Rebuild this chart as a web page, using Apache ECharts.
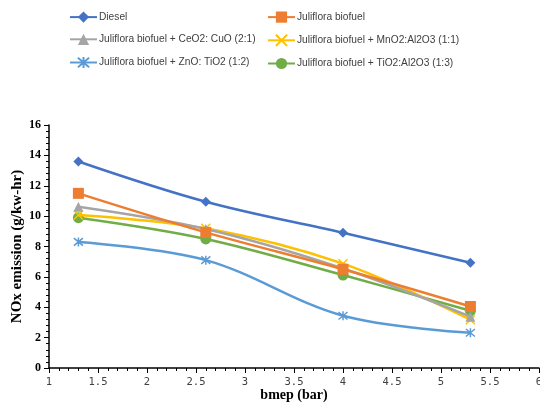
<!DOCTYPE html>
<html><head><meta charset="utf-8">
<script src="https://cdn.jsdelivr.net/npm/echarts@6/dist/echarts.min.js"></script>
<style>html,body{margin:0;padding:0;background:#fff}#c{width:540px;height:411px}</style>
</head><body><div id="c"></div>
<script>
const bmep = [1.3, 2.6, 4, 5.3];
const seriesNames = [
  'Diesel',
  'Juliflora biofuel',
  'Juliflora biofuel + CeO2: CuO (2:1)',
  'Juliflora biofuel + MnO2:Al2O3 (1:1)',
  'Juliflora biofuel + ZnO: TiO2 (1:2)',
  'Juliflora biofuel + TiO2:Al2O3 (1:3)'
];
const diesel = [13.6, 10.95, 8.9, 6.93];
const juliflora = [11.5, 8.93, 6.5, 4.05];
const ceo2 = [10.62, 9.15, 6.55, 3.38];
const mno2 = [10.07, 9.2, 6.87, 3.18];
const zno = [8.3, 7.1, 3.44, 2.32];
const tio2 = [9.9, 8.5, 6.12, 3.77];
const colors = ['#4472C4', '#ED7D31', '#A5A5A5', '#FFC000', '#5B9BD5', '#70AD47'];
const values = [diesel, juliflora, ceo2, mno2, zno, tio2];

const xPath = 'path://M0,0L10,10M10,0L0,10';
const starPath = 'path://M0,0L10,10M10,0L0,10M5,-1L5,11';
const symbols = ['diamond', 'rect', 'triangle', xPath, starPath, 'circle'];
const sizes = [10, 11, 10, 9, 9, 11];

const series = values.map((v, i) => ({
  name: seriesNames[i],
  type: 'line',
  smooth: 0.35,
  data: bmep.map((x, j) => [x, v[j]]),
  symbol: symbols[i],
  symbolSize: sizes[i],
  showAllSymbol: true,
  lineStyle: { color: colors[i], width: 2.5 },
  itemStyle: (i === 3 || i === 4)
    ? { color: colors[i], borderColor: colors[i], borderWidth: 1.5 }
    : { color: colors[i], borderWidth: 0 },
  emphasis: { disabled: true },
  z: 10 - i
}));

const legendCommon = {
  orient: 'vertical',
  top: 11.5,
  padding: 0,
  itemWidth: 27,
  itemHeight: 14,
  itemGap: 11,
  textStyle: { fontFamily: 'Liberation Sans, Arial', fontSize: 10.2, color: '#404040', padding: [0, 0, 0, -3] },
  selectedMode: false
};

const chart = echarts.init(document.getElementById('c'), null, { renderer: 'canvas' });
chart.setOption({
  animation: false,
  color: colors,
  legend: [
    Object.assign({}, legendCommon, { left: 69, data: [seriesNames[0], seriesNames[2], seriesNames[4]] }),
    Object.assign({}, legendCommon, { left: 267, data: [seriesNames[1], seriesNames[3], seriesNames[5]] })
  ],
  grid: { left: 49, right: 1, top: 125, bottom: 43, containLabel: false, outerBoundsMode: 'none' },
  xAxis: {
    type: 'value', min: 1, max: 6, interval: 0.5,
    name: 'bmep (bar)', nameLocation: 'middle', nameGap: 20, nameMoveOverlap: false,
    nameTextStyle: { fontFamily: 'Liberation Serif, Times New Roman', fontWeight: 'bold', fontSize: 14, color: '#000' },
    axisLine: { lineStyle: { color: '#000', width: 1.5 } },
    axisTick: { show: true, inside: false, length: 5, lineStyle: { color: '#000' } },
    minorTick: { show: true, splitNumber: 5, length: 3, lineStyle: { color: '#000' } },
    axisLabel: { fontFamily: 'DejaVu Sans Mono, monospace', fontSize: 10.5, color: '#404040', margin: 9 },
    splitLine: { show: false }
  },
  yAxis: {
    type: 'value', min: 0, max: 16, interval: 2,
    name: 'NOx emission (g/kw-hr)', nameLocation: 'middle', nameGap: 24, nameMoveOverlap: false,
    nameTextStyle: { fontFamily: 'Liberation Serif, Times New Roman', fontWeight: 'bold', fontSize: 15, color: '#000' },
    axisLine: { show: true, lineStyle: { color: '#000', width: 1.5 } },
    axisTick: { show: true, inside: false, length: 5, lineStyle: { color: '#000' } },
    minorTick: { show: true, splitNumber: 5, length: 3, lineStyle: { color: '#000' } },
    axisLabel: { fontFamily: 'Liberation Serif, Times New Roman', fontWeight: 'bold', fontSize: 12, color: '#000', margin: 8 },
    splitLine: { show: false }
  },
  series: series
});
</script></body></html>
